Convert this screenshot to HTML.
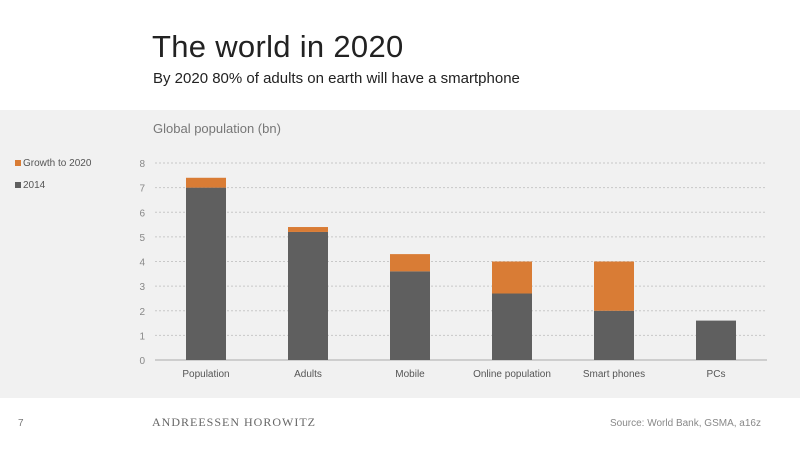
<!DOCTYPE html>
<html><head><meta charset="utf-8"><style>
body{margin:0;width:800px;height:450px;background:#fff;font-family:"Liberation Sans",sans-serif;overflow:hidden;position:relative}
.t{position:absolute;white-space:nowrap}
</style></head><body>
<div class="t" style="left:152px;top:29px;font-size:31px;letter-spacing:0.3px;color:#222">The world in 2020</div>
<div class="t" style="left:153px;top:70px;font-size:15px;color:#222">By 2020 80% of adults on earth will have a smartphone</div>
<div style="position:absolute;left:0;top:110px;width:800px;height:288px;background:#f1f1f1"></div>
<div class="t" style="left:153px;top:121px;font-size:13px;color:#777">Global population (bn)</div>
<div class="t" style="left:15px;top:158px;font-size:10px;color:#555"><span style="display:inline-block;width:6px;height:6px;background:#d97c35;margin-right:2px"></span>Growth to 2020</div>
<div class="t" style="left:15px;top:180px;font-size:10px;color:#555"><span style="display:inline-block;width:6px;height:6px;background:#5f5f5f;margin-right:2px"></span>2014</div>
<svg id="c" width="800" height="450" style="position:absolute;left:0;top:0"></svg>
<div class="t" style="left:18px;top:418px;font-size:10px;color:#777">7</div>
<div class="t" style="left:152px;top:415px;font-family:'Liberation Serif',serif;font-size:12px;letter-spacing:1px;color:#666">ANDREESSEN HOROWITZ</div>
<div class="t" style="left:610px;top:418px;font-size:10px;color:#888">Source: World Bank, GSMA, a16z</div>
<script>
const categories=["Population","Adults","Mobile","Online population","Smart phones","PCs"];
const base2014=[7.0,5.2,3.6,2.7,2.0,1.6];
const growth=[0.4,0.2,0.7,1.3,2.0,0];
const ticks=[0,1,2,3,4,5,6,7,8];
const svg=document.getElementById('c');const NS="http://www.w3.org/2000/svg";
const x0=155,x1=767,y0=360,y8=163;
const y=v=>y0-(v/8)*(y0-y8);
const bw=(x1-x0)/categories.length;
const xc=i=>x0+bw*(i+0.5);
function mk(t,a){const e=document.createElementNS(NS,t);for(const k in a)e.setAttribute(k,a[k]);svg.appendChild(e);return e;}
ticks.forEach(v=>{
 if(v>0){const l=mk('line',{x1:x0,x2:x1,y1:y(v),y2:y(v),stroke:'#c8c8c8','stroke-dasharray':'2,2'});
 
 }
 const t=mk('text',{x:145,y:y(v)+4,'font-size':10,fill:'#888','text-anchor':'end','font-family':'Liberation Sans'});t.textContent=v;
 
 
});
const ax=mk('line',{x1:x0,x2:x1,y1:y0,y2:y0,stroke:'#aaa'});


categories.forEach((c,i)=>{
 const w=40,xl=xc(i)-w/2;
 const b=mk('rect',{x:xl,y:y(base2014[i]),width:w,height:y0-y(base2014[i]),fill:'#5f5f5f'});
 
 
 if(growth[i]>0){const g=mk('rect',{x:xl,y:y(base2014[i]+growth[i]),width:w,height:y(base2014[i])-y(base2014[i]+growth[i]),fill:'#d97c35'});
 
 }
 const t=mk('text',{x:xc(i),y:377,'font-size':10,fill:'#555','text-anchor':'middle','font-family':'Liberation Sans'});t.textContent=c;
 
 
});
</script>
</body></html>
